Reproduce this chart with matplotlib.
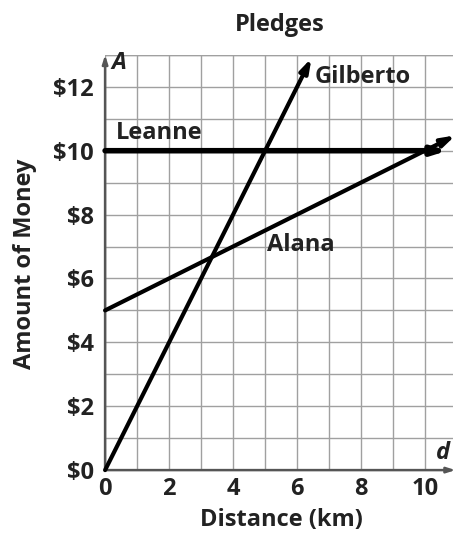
import matplotlib.pyplot as plt
import numpy as np

# data
distance_ticks = [0, 2, 4, 6, 8, 10]
money_ticks = [0, 2, 4, 6, 8, 10, 12]
money_labels = ['$0', '$2', '$4', '$6', '$8', '$10', '$12']

gilberto_d = [0, 6.45]
gilberto_A = [0, 12.9]
leanne_d = [0, 10.7]
leanne_A = [10, 10]
alana_d = [0, 10.95]
alana_A = [5, 10.48]

plt.rcParams['font.family'] = ['Open Sans', 'DejaVu Sans']
txt = '#222222'
fw = 'bold'
fs = 17

fig = plt.figure(figsize=(4.53, 5.33), dpi=100)
ax = fig.add_axes([0.232, 0.118, 0.770, 0.779])
ax.set_xlim(0, 10.9)
ax.set_ylim(0, 13)

for s in ax.spines.values():
    s.set_visible(False)
ax.set_xticks(distance_ticks)
ax.set_xticks(np.arange(0, 11, 1), minor=True)
ax.set_yticks(money_ticks)
ax.set_yticks(np.arange(0, 14, 1), minor=True)
ax.set_yticklabels(money_labels, fontweight=fw)
ax.set_xticklabels([str(t) for t in distance_ticks], fontweight=fw)
ax.tick_params(axis='y', length=0, labelsize=fs, pad=8, colors=txt)
ax.tick_params(axis='x', length=0, labelsize=fs, pad=5, colors=txt)
ax.tick_params(which='minor', length=0)
ax.grid(True, which='both', color='#a0a0a0', lw=1.0)
ax.set_axisbelow(True)
ax.axhline(13, color='#a0a0a0', lw=1.0)

# axes with arrows
ax_arrow = dict(arrowstyle='-|>,head_length=0.5,head_width=0.16',
                color='#555555', lw=1.8, shrinkA=0, shrinkB=0)
ax.annotate('', xy=(0, 13), xytext=(0, 0), arrowprops=ax_arrow,
            annotation_clip=False)
ax.annotate('', xy=(10.95, 0), xytext=(0, 0), arrowprops=ax_arrow,
            annotation_clip=False)
ax.text(0.2, 12.75, 'A', style='italic', fontsize=fs, fontweight=fw,
        color=txt, va='center', ha='left')
ax.text(10.35, 0.55, 'd', style='italic', fontsize=fs, fontweight=fw,
        color=txt, va='center', ha='left')

# the three pledge lines
for d, A, lw in [(gilberto_d, gilberto_A, 3.0), (leanne_d, leanne_A, 4.0),
                 (alana_d, alana_A, 3.0)]:
    ax.annotate('', xy=(d[1], A[1]), xytext=(d[0], A[0]),
                arrowprops=dict(arrowstyle='-|>,head_length=0.8,head_width=0.25',
                                color='black', lw=lw, shrinkA=0, shrinkB=0),
                annotation_clip=False)

ax.text(6.55, 12.3, 'Gilberto', fontsize=fs, fontweight=fw, color=txt,
        va='center', ha='left')
ax.text(0.35, 10.55, 'Leanne', fontsize=fs, fontweight=fw, color=txt,
        va='center', ha='left')
ax.text(5.05, 7.05, 'Alana', fontsize=fs, fontweight=fw, color=txt,
        va='center', ha='left')

fig.text(0.618, 0.953, 'Pledges', fontsize=fs, fontweight=fw, color=txt,
         ha='center', va='center')
fig.text(0.622, 0.025, 'Distance (km)', fontsize=fs, fontweight=fw,
         color=txt, ha='center', va='center')
fig.text(0.055, 0.505, 'Amount of Money', fontsize=fs, fontweight=fw,
         color=txt, ha='center', va='center', rotation=90)

fig.savefig('out.png', dpi=100)
